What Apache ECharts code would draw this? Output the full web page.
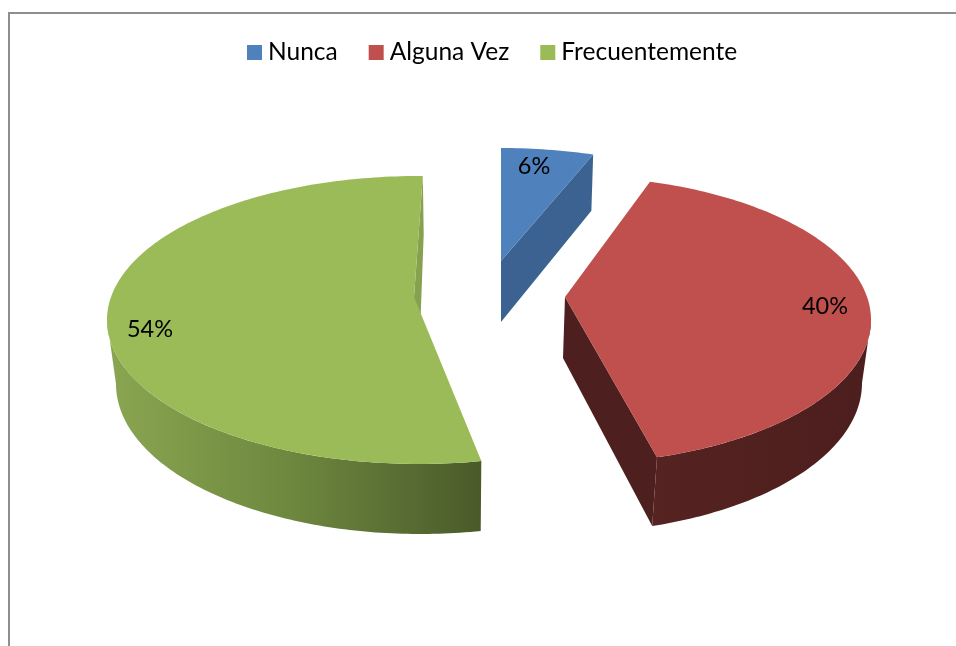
<!DOCTYPE html>
<html>
<head>
<meta charset="utf-8">
<style>html,body{margin:0;padding:0;background:#fff}#c{width:956px;height:646px}</style>
<script src="https://cdn.jsdelivr.net/npm/echarts@6/dist/echarts.min.js"></script>
</head>
<body>
<div id="c"></div>
<script>
var categories = ['Nunca', 'Alguna Vez', 'Frecuentemente'];
var values = [6, 40, 54];
var percentLabels = ['6%', '40%', '54%'];

var topColors = ['#4f81bd', '#c0504d', '#9bbb59'];
var total = values.reduce(function (a, b) { return a + b; }, 0);

// Perspective layout of every exploded slice (pixels), independent of the data.
var layouts = [
  { c: [501, 292], apex: [501, 261], bc: [501, 354], bApex: [501, 322], rx: 309, brx: 303, k: 0.80, d0: 0, d1: 0, label: [534, 166],
    cut: '#3b6290', visibleOuter: null },
  { c: [565, 320], apex: [565, 297], bc: [562, 383], bApex: [563, 358], rx: 306, brx: 300, k: 0.78, d0: -0.8, d1: 0.9, label: [825, 306],
    cut: '#4d1f1e', outer: ['#4c1e1d', '#552321'], gx: [862, 653], visibleOuter: [90, null] },
  { c: [419, 320], apex: [414, 297], bc: [420, 384], bApex: [419, 360], rx: 312, brx: 304, k: 1.18, d0: 0.7, d1: 0.7, label: [150, 329],
    cut: '#86a24e', outer: ['#8ba651', '#6d873e', '#4a5a2a'], gx: [107, 481], visibleOuter: [null, 270] }
];
var RY = 144, BRY = 150;
var RAD = Math.PI / 180;

function phiOf(theta, k) {
  var h = theta * RAD / 2;
  return 2 * Math.atan2(k * Math.sin(h), Math.cos(h)) / RAD;
}
function topPt(l, phi) { return [l.c[0] + l.rx * Math.sin(phi * RAD), l.c[1] - RY * Math.cos(phi * RAD)]; }
function botPt(l, phi) { return [l.bc[0] + l.brx * Math.sin(phi * RAD), l.bc[1] - BRY * Math.cos(phi * RAD)]; }
function arc(fn, l, a, b) {
  var n = Math.max(8, Math.ceil(Math.abs(b - a))), pts = [];
  for (var i = 0; i <= n; i++) pts.push(fn(l, a + (b - a) * i / n));
  return pts;
}

function renderSlice(params, api) {
  var i = params.seriesIndex, l = layouts[i], v = api.value(0), before = 0;
  for (var j = 0; j < i; j++) before += values[j];
  var phi0 = phiOf(before / total * 360, l.k) + l.d0;
  var phi1 = phiOf((before + v) / total * 360, l.k) + l.d1;
  var kids = [];

  // straight cut wall at the clockwise end of the slice
  var cutPts = [l.apex, topPt(l, phi1), botPt(l, phi1), l.bApex];
  kids.push({ type: 'polygon', shape: { points: cutPts }, style: { fill: l.cut } });

  // outer curved wall
  if (l.visibleOuter) {
    var a = l.visibleOuter[0] === null ? phi0 : l.visibleOuter[0];
    var b = l.visibleOuter[1] === null ? phi1 : l.visibleOuter[1];
    var pts = arc(topPt, l, a, b).concat(arc(botPt, l, b, a));
    var stops = l.outer.map(function (c, n) { return { offset: n / (l.outer.length - 1), color: c }; });
    kids.push({ type: 'polygon', shape: { points: pts },
      style: { fill: new echarts.graphic.LinearGradient(l.gx[0], 0, l.gx[1], 0, stops, true) } });
  }

  // top face
  var face = [l.apex].concat(arc(topPt, l, phi0, phi1));
  kids.push({ type: 'polygon', shape: { points: face }, style: { fill: topColors[i] } });

  kids.push({ type: 'text', style: { text: percentLabels[i], x: l.label[0], y: l.label[1],
    align: 'center', verticalAlign: 'middle', fill: '#000', font: '23.5px Lato' } });
  return { type: 'group', children: kids };
}

var chart = echarts.init(document.getElementById('c'), null, { renderer: 'canvas' });
chart.setOption({
  animation: false,
  backgroundColor: '#fff',
  legend: {
    left: 247, top: 40, padding: 0, icon: 'rect', itemWidth: 15, itemHeight: 15, itemGap: 31,
    selectedMode: false,
    textStyle: { fontFamily: 'Lato', fontSize: 24.5, color: '#000', padding: [0, 0, 0, 1] },
    data: categories
  },
  graphic: [{ type: 'polyline', silent: true, shape: { points: [[9, 646], [9, 13], [956, 13]] },
    style: { stroke: '#8e8e8e', lineWidth: 2, fill: null } }],
  series: categories.map(function (name, i) {
    return {
      type: 'custom', name: name, coordinateSystem: 'none', silent: true,
      itemStyle: { color: topColors[i] },
      data: [[values[i]]],
      encode: { value: 0 },
      renderItem: renderSlice
    };
  })
});
</script>
</body>
</html>
